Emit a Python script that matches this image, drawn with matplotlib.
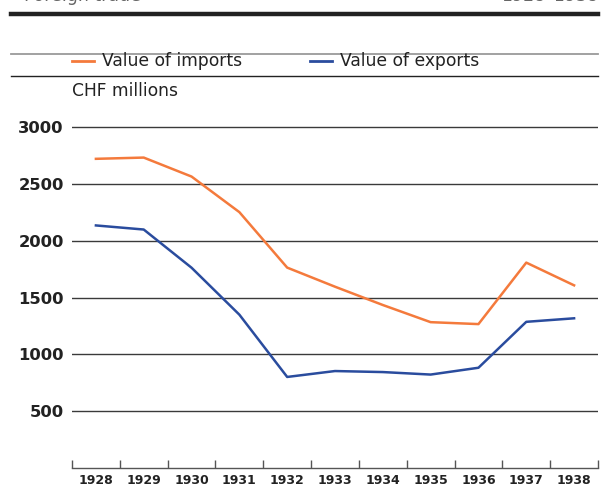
import matplotlib.pyplot as plt
from matplotlib.lines import Line2D

years = ["1928", "1929", "1930", "1931", "1932", "1933",
         "1934", "1935", "1936", "1937", "1938"]
imports = [2720, 2731, 2564, 2251, 1763, 1595, 1434, 1283, 1266, 1807, 1607]
exports = [2134, 2098, 1762, 1349, 801, 853, 844, 822, 882, 1286, 1317]
y_ticks = [500, 1000, 1500, 2000, 2500, 3000]

ORANGE = "#f47a3c"
BLUE = "#2a4c9e"
W, H = 601, 487

plt.rcParams["font.family"] = ["DejaVu Sans"]

fig = plt.figure(figsize=(W / 100, H / 100), dpi=100)


def fx(px):
    return px / W


def fy(py):
    return 1 - py / H


# header rules
fig.add_artist(Line2D([fx(11), fx(598)], [fy(14), fy(14)], lw=3.2, color="#222222"))
fig.add_artist(Line2D([fx(11), fx(598)], [fy(54), fy(54)], lw=1.3, color="#9a9a9a"))
fig.add_artist(Line2D([fx(11), fx(598)], [fy(76), fy(76)], lw=1.0, color="#222222"))

# title line, mostly above the top edge as in the reference
fig.text(fx(24), fy(1), "Foreign trade", fontsize=12.5, color="#666666",
         va="baseline", ha="left")
fig.text(fx(598), fy(1), "1928–1938", fontsize=12.5, color="#666666",
         va="baseline", ha="right")

# legend
fig.add_artist(Line2D([fx(72), fx(94)], [fy(61), fy(61)], lw=2, color=ORANGE))
fig.text(fx(102), fy(61), "Value of imports", fontsize=12.3, color="#222222",
         va="center", ha="left")
fig.add_artist(Line2D([fx(310), fx(332)], [fy(61), fy(61)], lw=2, color=BLUE))
fig.text(fx(340), fy(61), "Value of exports", fontsize=12.3, color="#222222",
         va="center", ha="left")
fig.text(fx(72), fy(91), "CHF millions", fontsize=12.3, color="#222222",
         va="center", ha="left")

# axes
top_val = 3100
ax = fig.add_axes([fx(72), fy(468), fx(598) - fx(72), top_val * 341 / 3000 / H])
x = list(range(len(years)))
ax.set_xlim(-0.5, len(years) - 0.5)
ax.set_ylim(0, top_val)

for v in y_ticks:
    ax.axhline(v, color="#3a3a3a", lw=1.0, zorder=1)

ax.plot(x, imports, color=ORANGE, lw=1.8, zorder=3)
ax.plot(x, exports, color=BLUE, lw=1.8, zorder=3)

for s in ["top", "right", "left"]:
    ax.spines[s].set_visible(False)
ax.spines["bottom"].set_color("#555555")
ax.spines["bottom"].set_linewidth(1.0)

ax.set_yticks(y_ticks)
ax.set_yticklabels([str(v) for v in y_ticks], fontsize=11.8, fontweight="bold",
                   color="#222222")
ax.tick_params(axis="y", length=0, pad=6)

ax.set_xticks([i - 0.5 for i in range(len(years) + 1)])
ax.set_xticklabels([])
ax.tick_params(axis="x", direction="in", length=6, width=1.0, color="#555555")
ax.set_xticks(x, minor=True)
ax.set_xticklabels(years, minor=True, fontsize=9.0, fontweight="bold", color="#222222")
ax.tick_params(axis="x", which="minor", length=0, pad=4)

fig.savefig("out.png", dpi=100)
